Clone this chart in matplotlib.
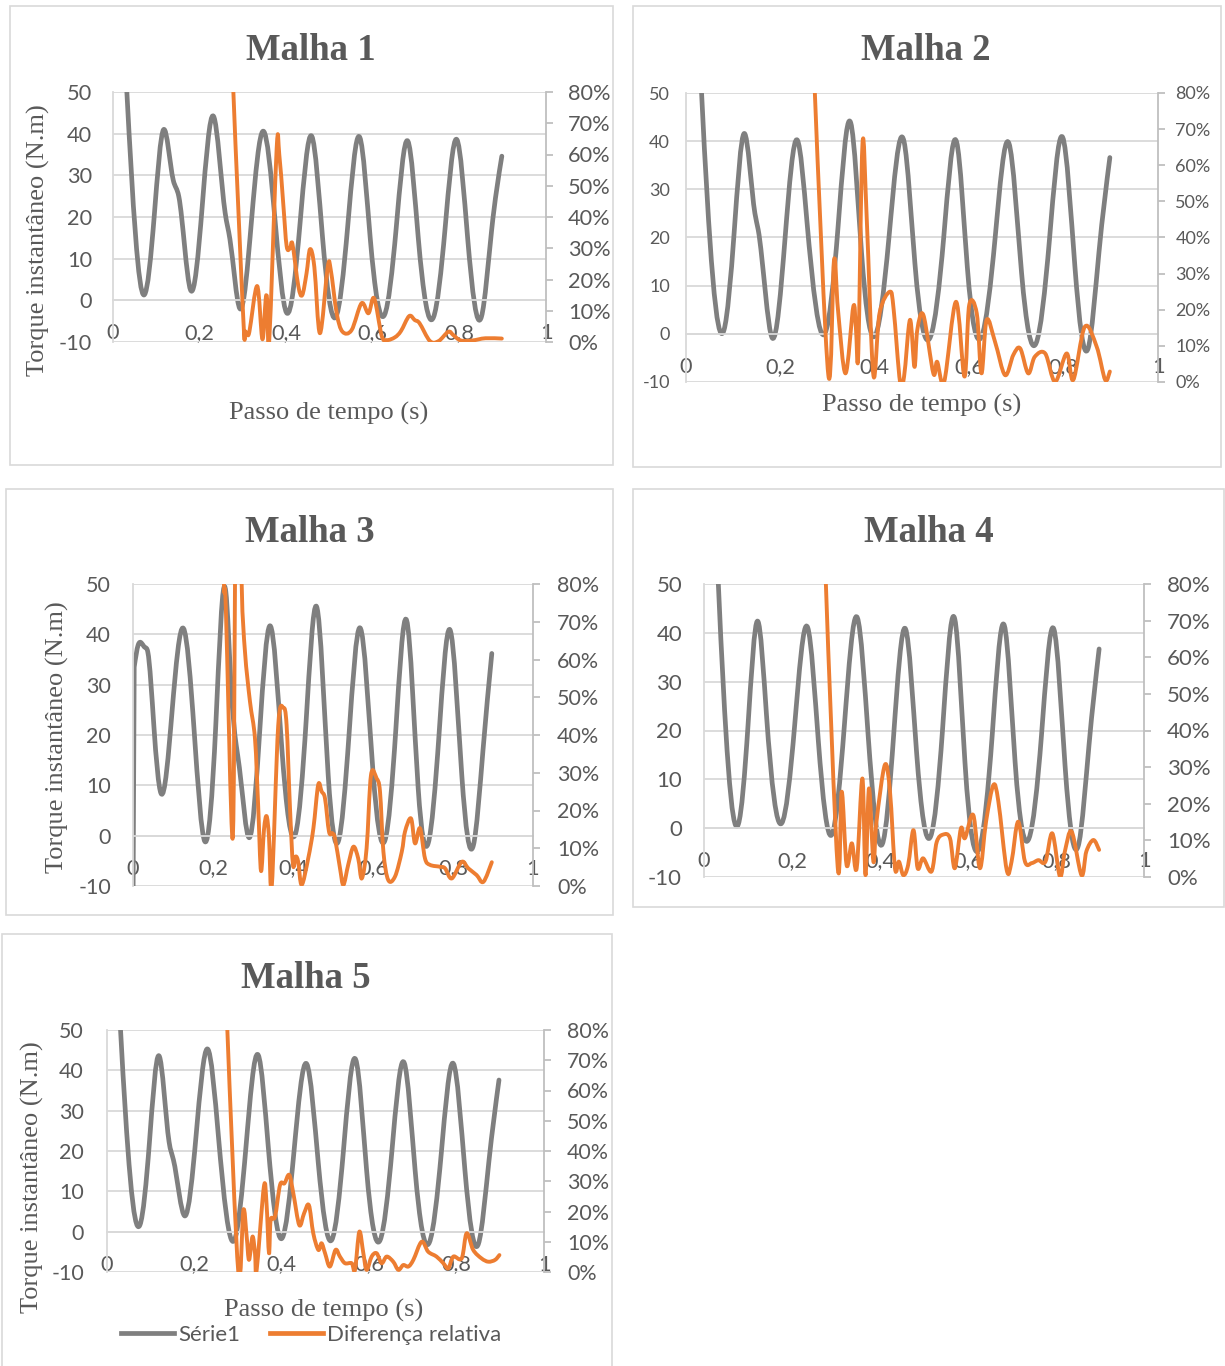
import numpy as np
import matplotlib
matplotlib.use("Agg")
import matplotlib.pyplot as plt
from matplotlib.path import Path
from matplotlib.patches import PathPatch, Rectangle
from matplotlib.lines import Line2D

# ==========================================================
# DADOS  (t em s, torque em N.m, diferença relativa em fração)
# ==========================================================
t1_torque = [0.010, 0.032, 0.072, 0.0955, 0.117, 0.139, 0.152, 0.179, 0.206, 0.232, 0.259, 0.270,
             0.293, 0.320, 0.347, 0.374, 0.401, 0.432, 0.459, 0.484, 0.514, 0.542, 0.570, 0.594,
             0.627, 0.654, 0.681, 0.705, 0.740, 0.767, 0.794, 0.819, 0.851, 0.8745, 0.898]
v1_torque = [95, 50, 1.3, 20.6, 41.0, 28.9, 24.9, 2.5, 22.5, 44.2, 21.0, 14.7,
             -2.0, 19.3, 40.6, 19.5, -3.0, 18.5, 39.4, 15.0, -4.1, 17.7, 39.1, 15.0,
             -3.5, 17.3, 38.2, 15.0, -4.1, 17.3, 38.6, 15.0, -3.9, 16.9, 34.6]
t1_dif = [0.270, 0.278, 0.301, 0.305, 0.310, 0.315, 0.333, 0.345, 0.3526, 0.356, 0.361, 0.378,
          0.384, 0.393, 0.401, 0.409, 0.4145, 0.428, 0.437, 0.447, 0.455, 0.465, 0.478, 0.496,
          0.503, 0.5166, 0.530, 0.551, 0.574, 0.590, 0.603, 0.6205, 0.632, 0.651, 0.665, 0.684,
          0.697, 0.708, 0.732, 0.752, 0.7745, 0.786, 0.803, 0.830, 0.860, 0.898]
p1_dif = [1.20, 0.80, 0.073, 0.035, 0.030, 0.033, 0.179, 0.009, 0.137, 0.135, 0.009, 0.620,
          0.600, 0.446, 0.307, 0.300, 0.313, 0.179, 0.150, 0.220, 0.297, 0.240, 0.028, 0.241,
          0.230, 0.092, 0.033, 0.038, 0.124, 0.092, 0.140, 0.020, 0.006, 0.015, 0.035, 0.083,
          0.070, 0.060, 0.003, 0.003, 0.033, 0.022, 0.005, 0.005, 0.012, 0.011]

t2_torque = [0.012, 0.033, 0.0805, 0.102, 0.1236, 0.146, 0.153, 0.183, 0.210, 0.236, 0.256, 0.2945,
             0.322, 0.349, 0.372, 0.397, 0.430, 0.462, 0.485, 0.518, 0.546, 0.5734, 0.596, 0.626,
             0.655, 0.684, 0.711, 0.7415, 0.770, 0.798, 0.824, 0.852, 0.875, 0.898]
v2_torque = [95, 50, 0.8, 21.0, 41.6, 25.0, 21.6, -0.9, 20.0, 40.2, 23.6, 0.1,
             22.0, 43.8, 16.7, -0.6, 20.0, 39.9, 14.6, -0.6, 20.0, 39.8, 13.9, -0.6,
             20.0, 39.6, 12.6, -2.0, 19.5, 40.8, 13.9, -3.0, 17.0, 36.6]
t2_dif = [0.265, 0.273, 0.3016, 0.3136, 0.322, 0.338, 0.3545, 0.360, 0.365, 0.374, 0.383, 0.397,
          0.410, 0.432, 0.440, 0.4534, 0.462, 0.4746, 0.484, 0.490, 0.503, 0.524, 0.532, 0.547,
          0.572, 0.590, 0.600, 0.616, 0.626, 0.637, 0.655, 0.676, 0.6935, 0.708, 0.725, 0.739,
          0.761, 0.782, 0.8065, 0.8206, 0.845, 0.870, 0.888, 0.898]
p2_dif = [1.20, 0.80, 0.019, 0.338, 0.200, 0.024, 0.209, 0.150, 0.079, 0.661, 0.450, 0.019,
          0.190, 0.250, 0.200, 0.001, 0.015, 0.172, 0.042, 0.144, 0.185, 0.024, 0.056, 0.001,
          0.222, 0.015, 0.213, 0.190, 0.024, 0.172, 0.110, 0.019, 0.075, 0.093, 0.024, 0.070,
          0.079, 0.001, 0.079, 0.006, 0.153, 0.098, 0.006, 0.029]

t3_torque = [0.0, 0.003, 0.013, 0.030, 0.037, 0.052, 0.070, 0.098, 0.126, 0.153, 0.180, 0.207,
             0.232, 0.245, 0.258, 0.266, 0.291, 0.317, 0.3425, 0.372, 0.4067, 0.433, 0.459, 0.488,
             0.513, 0.540, 0.5675, 0.600, 0.630, 0.657, 0.684, 0.713, 0.738, 0.765, 0.7925, 0.822,
             0.851, 0.875, 0.897]
v3_torque = [-15, 33.5, 37.9, 37.4, 36.5, 22.0, 8.4, 25.0, 41.2, 20.7, -1.2, 22.0,
             48.5, 30.0, 18.0, 13.5, -0.4, 21.0, 41.7, 17.4, 0.5, 23.0, 45.5, 12.0,
             -1.2, 20.0, 41.3, 12.7, -0.9, 21.0, 42.8, 9.4, -1.5, 20.0, 40.9, 12.0,
             -1.9, 17.0, 36.2]
t3_dif = [0.220, 0.2275, 0.232, 0.249, 0.255, 0.258, 0.265, 0.2717, 0.280, 0.2925, 0.305, 0.313,
          0.320, 0.3275, 0.334, 0.340, 0.347, 0.363, 0.376, 0.384, 0.3925, 0.400, 0.4067, 0.413,
          0.4217, 0.438, 0.451, 0.463, 0.4717, 0.480, 0.490, 0.498, 0.505, 0.5175, 0.526, 0.538,
          0.551, 0.563, 0.572, 0.584, 0.595, 0.609, 0.6175, 0.626, 0.638, 0.655, 0.672, 0.680,
          0.695, 0.705, 0.7175, 0.730, 0.7425, 0.7675, 0.780, 0.797, 0.8217, 0.838, 0.859, 0.876,
          0.897]
p3_dif = [1.20, 0.80, 0.740, 0.125, 0.800, 1.200, 1.300, 0.800, 0.620, 0.488, 0.390, 0.210,
          0.040, 0.150, 0.185, 0.130, 0.000, 0.424, 0.472, 0.426, 0.206, 0.056, 0.078, 0.064,
          0.003, 0.073, 0.153, 0.268, 0.250, 0.232, 0.144, 0.140, 0.126, 0.047, 0.003, 0.056,
          0.104, 0.073, 0.020, 0.100, 0.294, 0.285, 0.250, 0.091, 0.016, 0.025, 0.091, 0.144,
          0.179, 0.113, 0.153, 0.073, 0.056, 0.051, 0.047, 0.020, 0.064, 0.047, 0.029, 0.011,
          0.063]

t4_torque = [0.012, 0.0326, 0.078, 0.100, 0.122, 0.142, 0.1765, 0.206, 0.2356, 0.260, 0.290, 0.319,
             0.3485, 0.373, 0.405, 0.431, 0.458, 0.483, 0.515, 0.542, 0.570, 0.593, 0.627, 0.655,
             0.6826, 0.707, 0.7386, 0.767, 0.795, 0.8205, 0.852, 0.875, 0.898]
v4_torque = [95, 50, 0.8, 21.0, 42.4, 23.2, 1.0, 21.0, 41.1, 17.7, -1.4, 21.0,
             43.1, 19.1, -3.3, 19.0, 40.8, 15.7, -1.7, 20.0, 42.8, 13.6, -3.8, 19.0,
             41.5, 13.6, -2.1, 19.0, 40.8, 12.9, -3.1, 17.0, 36.7]
t4_dif = [0.270, 0.277, 0.3038, 0.313, 0.324, 0.336, 0.347, 0.360, 0.367, 0.375, 0.385, 0.392,
          0.411, 0.4227, 0.434, 0.443, 0.453, 0.464, 0.476, 0.4856, 0.498, 0.517, 0.529, 0.544,
          0.559, 0.570, 0.584, 0.593, 0.612, 0.627, 0.641, 0.6576, 0.669, 0.688, 0.699, 0.714,
          0.7295, 0.745, 0.760, 0.776, 0.7917, 0.809, 0.820, 0.8356, 0.858, 0.869, 0.885, 0.898]
p4_dif = [1.20, 0.80, 0.028, 0.233, 0.033, 0.092, 0.024, 0.269, 0.005, 0.242, 0.042, 0.151,
          0.306, 0.233, 0.024, 0.042, 0.005, 0.033, 0.128, 0.024, 0.051, 0.015, 0.096, 0.116,
          0.106, 0.024, 0.133, 0.106, 0.169, 0.024, 0.151, 0.251, 0.206, 0.019, 0.042, 0.151,
          0.042, 0.038, 0.046, 0.042, 0.119, 0.001, 0.069, 0.124, 0.005, 0.070, 0.101, 0.074]

t5_torque = [0.010, 0.031, 0.0755, 0.097, 0.119, 0.142, 0.152, 0.1785, 0.204, 0.230, 0.255, 0.291,
             0.318, 0.346, 0.369, 0.400, 0.428, 0.457, 0.4836, 0.514, 0.541, 0.569, 0.594, 0.625,
             0.652, 0.680, 0.705, 0.7376, 0.765, 0.7925, 0.819, 0.850, 0.874, 0.897]
v5_torque = [95, 50, 1.7, 22.0, 43.6, 22.3, 17.8, 3.9, 24.0, 45.3, 23.6, -2.2,
             21.0, 43.8, 21.1, -1.7, 20.0, 41.6, 16.9, -2.1, 20.0, 42.7, 15.3, -2.1,
             20.0, 41.9, 15.3, -2.7, 19.5, 41.7, 15.3, -3.0, 17.5, 37.6]
t5_dif = [0.268, 0.2754, 0.3005, 0.312, 0.3196, 0.325, 0.333, 0.3387, 0.3425, 0.359, 0.365, 0.3707,
          0.3745, 0.3845, 0.396, 0.406, 0.417, 0.4264, 0.440, 0.451, 0.462, 0.472, 0.4836, 0.491,
          0.499, 0.510, 0.523, 0.533, 0.5446, 0.560, 0.5675, 0.5774, 0.5866, 0.594, 0.6056, 0.617,
          0.6285, 0.640, 0.655, 0.6667, 0.678, 0.6896, 0.701, 0.720, 0.735, 0.754, 0.7696, 0.781,
          0.7925, 0.8116, 0.823, 0.838, 0.857, 0.8726, 0.888, 0.898]
p5_dif = [1.20, 0.80, 0.000, 0.205, 0.117, 0.040, 0.117, 0.062, 0.007, 0.282, 0.227, 0.062,
          0.172, 0.183, 0.288, 0.293, 0.321, 0.260, 0.155, 0.194, 0.221, 0.128, 0.073, 0.095,
          0.062, 0.018, 0.073, 0.051, 0.029, 0.029, 0.007, 0.133, 0.062, 0.007, 0.051, 0.062,
          0.029, 0.051, 0.034, 0.007, 0.023, 0.018, 0.040, 0.100, 0.067, 0.051, 0.029, 0.012,
          0.051, 0.045, 0.128, 0.073, 0.045, 0.034, 0.040, 0.056]

titulos = ["Malha 1", "Malha 2", "Malha 3", "Malha 4", "Malha 5"]
rotulos_x = ["0", "0,2", "0,4", "0,6", "0,8", "1"]
ticks_torque = [-10, 0, 10, 20, 30, 40, 50]
ticks_dif = [0, 0.1, 0.2, 0.3, 0.4, 0.5, 0.6, 0.7, 0.8]
nomes_series = ["Série1", "Diferença relativa"]

# ==========================================================
# CONFIGURAÇÕES
# ==========================================================
W, H = 1225, 1366
cor_torque = "#7f7f7f"
cor_dif = "#ed7d31"
cor_texto = "#595959"
cor_grade = "#d9d9d9"
cor_eixo = "#bfbfbf"

plt.rcParams["font.family"] = ["Lato", "DejaVu Sans"]
plt.rcParams["axes.unicode_minus"] = False
serif = ["Liberation Serif", "DejaVu Serif"]

# caixa, área do gráfico, título, rótulos, fontes e pads dos ticks
paineis = [
    dict(box=(10, 6, 613, 465), area=(113, 92, 546, 342), titulo=(311, 51),
         ylab=(38, 240), xlab=(329, 413), fs=15.7, pl=15.2, pr=10.8, px=16.5, reto=False),
    dict(box=(633, 6, 1221, 467), area=(686, 93, 1158, 382), titulo=(926, 51),
         ylab=None, xlab=(922, 405), fs=13.0, pl=11.5, pr=7.5, px=16.9, reto=False),
    dict(box=(6, 489, 613, 915), area=(133, 584, 533, 886), titulo=(310, 533),
         ylab=(57, 737), xlab=None, fs=15.5, pl=15.9, pr=12.3, px=16.5, reto=True),
    dict(box=(633, 489, 1224, 907), area=(704, 584, 1144, 877), titulo=(929, 533),
         ylab=None, xlab=None, fs=16.0, pl=15.8, pr=11.5, px=16.5, reto=False),
    dict(box=(2, 934, 612, 1372), area=(107, 1030, 544, 1272), titulo=(306, 979),
         ylab=(32, 1177), xlab=(324, 1310), fs=15.4, pl=16.6, pr=11.5, px=16.5, reto=False),
]
fs_x = 15.7
series = [
    (t1_torque, v1_torque, t1_dif, p1_dif),
    (t2_torque, v2_torque, t2_dif, p2_dif),
    (t3_torque, v3_torque, t3_dif, p3_dif),
    (t4_torque, v4_torque, t4_dif, p4_dif),
    (t5_torque, v5_torque, t5_dif, p5_dif),
]


def fxy(x, y):
    return x / W, 1 - y / H


def bezier_catmull(t, v):
    # suavização tipo Excel (Catmull-Rom em bezier)
    pts = np.column_stack([t, v]).astype(float)
    n = len(pts)
    verts = [pts[0]]
    codes = [Path.MOVETO]
    for i in range(n - 1):
        p0 = pts[max(i - 1, 0)]
        p1 = pts[i]
        p2 = pts[i + 1]
        p3 = pts[min(i + 2, n - 1)]
        verts += [p1 + (p2 - p0) / 6, p2 - (p3 - p1) / 6, p2]
        codes += [Path.CURVE4] * 3
    return verts, codes


def bezier_spline(t, v):
    # spline cúbica natural escrita como segmentos de bezier
    x = np.asarray(t, float)
    y = np.asarray(v, float)
    n = len(x)
    h = np.diff(x)
    s = np.diff(y) / h
    A = np.zeros((n, n))
    b = np.zeros(n)
    A[0, 0] = A[-1, -1] = 1
    for i in range(1, n - 1):
        A[i, i - 1] = h[i - 1]
        A[i, i] = 2 * (h[i - 1] + h[i])
        A[i, i + 1] = h[i]
        b[i] = 6 * (s[i] - s[i - 1])
    M = np.linalg.solve(A, b)
    verts = [(x[0], y[0])]
    codes = [Path.MOVETO]
    for i in range(n - 1):
        d0 = s[i] - h[i] * (2 * M[i] + M[i + 1]) / 6
        d1 = s[i] + h[i] * (M[i] + 2 * M[i + 1]) / 6
        verts += [(x[i] + h[i] / 3, y[i] + d0 * h[i] / 3),
                  (x[i + 1] - h[i] / 3, y[i + 1] - d1 * h[i] / 3),
                  (x[i + 1], y[i + 1])]
        codes += [Path.CURVE4] * 3
    return verts, codes


def desenha(ax, verts, codes, cor, lw):
    ax.add_patch(PathPatch(Path(verts, codes), facecolor="none", edgecolor=cor,
                           lw=lw, capstyle="round", joinstyle="round"))


fig = plt.figure(figsize=(W / 100, H / 100), dpi=100)
fig.patch.set_facecolor("white")

for cfg, (tt, vt, td, pd_), titulo in zip(paineis, series, titulos):
    bx0, by0, bx1, by1 = cfg["box"]
    fig.add_artist(Rectangle(fxy(bx0, by1), (bx1 - bx0) / W, (by1 - by0) / H,
                             transform=fig.transFigure, fill=False,
                             edgecolor=cor_grade, lw=1.2))

    x0, y0, x1, y1 = cfg["area"]
    ax = fig.add_axes([x0 / W, 1 - y1 / H, (x1 - x0) / W, (y1 - y0) / H])
    ax.set_xlim(0, 1)
    ax.set_ylim(-10, 50)
    ax.set_yticks(ticks_torque)
    ax.set_xticks(np.linspace(0, 1, 6))
    ax.set_xticklabels(rotulos_x)
    ax.grid(axis="y", color=cor_grade, lw=1.3)
    ax.grid(axis="x", visible=False)
    ax.set_axisbelow(True)
    ax.spines[["top", "right"]].set_visible(False)
    ax.spines["left"].set_color(cor_grade)
    ax.spines["left"].set_linewidth(1.3)
    ax.spines["bottom"].set_position(("data", 0))
    ax.spines["bottom"].set_color(cor_grade)
    ax.spines["bottom"].set_linewidth(1.3)
    ax.tick_params(axis="both", length=0, labelcolor=cor_texto)
    ax.tick_params(axis="y", pad=cfg["pl"], labelsize=cfg["fs"])
    ax.tick_params(axis="x", pad=cfg["px"], labelsize=fs_x)

    ax2 = ax.twinx()
    ax2.set_ylim(0, 0.8)
    ax2.set_yticks(ticks_dif)
    ax2.set_yticklabels([f"{round(p * 100)}%" for p in ticks_dif])
    ax2.spines[["top", "left", "bottom"]].set_visible(False)
    ax2.spines["right"].set_color(cor_eixo)
    ax2.spines["right"].set_linewidth(1.3)
    ax2.tick_params(axis="y", direction="out", length=5, width=1.3, color=cor_eixo,
                    labelcolor=cor_texto, labelsize=cfg["fs"], pad=cfg["pr"])

    # torque: spline; se o primeiro trecho é vertical, vai reto
    if cfg["reto"]:
        verts, codes = bezier_spline(tt[1:], vt[1:])
        verts = [(tt[0], vt[0])] + verts
        codes = [Path.MOVETO, Path.LINETO] + codes[1:]
    else:
        verts, codes = bezier_spline(tt, vt)
    desenha(ax, verts, codes, cor_torque, 3.4)

    verts, codes = bezier_catmull(td, pd_)
    desenha(ax2, verts, codes, cor_dif, 2.8)

    fig.text(*fxy(*cfg["titulo"]), titulo, ha="center", va="center", fontsize=26.5,
             fontweight="bold", family=serif, color=cor_texto)
    if cfg["ylab"]:
        fig.text(*fxy(*cfg["ylab"]), "Torque instantâneo (N.m)", ha="center", va="center",
                 rotation=90, fontsize=19, family=serif, color=cor_texto)
    if cfg["xlab"]:
        fig.text(*fxy(*cfg["xlab"]), "Passo de tempo (s)", ha="center", va="center",
                 fontsize=19, family=serif, color=cor_texto)

handles = [Line2D([], [], color=cor_torque, lw=3.4),
           Line2D([], [], color=cor_dif, lw=3.4)]
fig.legend(handles, nomes_series, loc="center", bbox_to_anchor=fxy(311, 1335), ncol=2,
           frameon=False, fontsize=16, handlelength=2.4, handletextpad=0.18,
           columnspacing=1.35, labelcolor=cor_texto)

fig.savefig("out.png", dpi=100, facecolor="white")
